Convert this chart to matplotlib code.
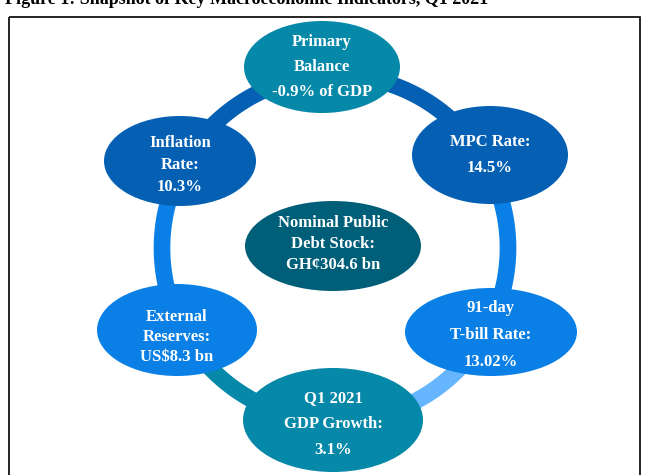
import numpy as np
import matplotlib.pyplot as plt
from matplotlib.patches import Ellipse, Rectangle

# indicator names and values, clockwise from the top, debt stock in the middle
names = ["Primary\nBalance", "MPC Rate:", "91-day\nT-bill Rate:", "Q1 2021\nGDP Growth:",
         "External\nReserves:", "Inflation\nRate:", "Nominal Public\nDebt Stock:"]
values = ["-0.9% of GDP", "14.5%", "13.02%", "3.1%", "US$8.3 bn", "10.3%", "GH\u00a2304.6 bn"]
title = "Figure 1: Snapshot of Key Macroeconomic Indicators, Q1 2021"

# layout in pixels: centre x, centre y, width, height, first text line y, line step
layout = [
    (322, 67, 156, 92, 42, 25),
    (490, 155, 156, 98, 142, 26),
    (491, 332, 172, 88, 308, 27),
    (333, 420, 180, 104, 398, 26),
    (177, 330, 160, 92, 317, 20),
    (180, 161, 152, 90, 143, 22),
    (333, 246, 176, 90, 223, 21),
]
node_colors = ["#0688a8", "#0560b4", "#0a80e6", "#0688a8", "#0a80e6", "#0560b4", "#005f78"]

# ring between the outer nodes
ring_cx, ring_cy, ring_r = 335, 248, 173
seg_colors = ["#0560b4", "#0a80e6", "#66b6ff", "#0688a8", "#0a80e6", "#0560b4"]

fig = plt.figure(figsize=(6.48, 4.75), dpi=100)
ax = fig.add_axes([0, 0, 1, 1])
ax.set_xlim(0, 648)
ax.set_ylim(475, 0)
ax.axis("off")

ax.text(5, 4, title, fontsize=13, fontweight="bold", family="Liberation Serif",
        va="baseline", ha="left", color="black")
ax.add_patch(Rectangle((9, 17), 631, 470, fill=False, edgecolor="black", linewidth=1.2))

# angles of each outer node seen from the ring centre
angles = [np.arctan2(ring_cy - cy, cx - ring_cx) for cx, cy, *_ in layout[:6]]
for i in range(6):
    a0 = angles[i]
    a1 = angles[(i + 1) % 6]
    if a1 > a0:
        a1 -= 2 * np.pi
    t = np.linspace(a0, a1, 80)
    ax.plot(ring_cx + ring_r * np.cos(t), ring_cy - ring_r * np.sin(t),
            color=seg_colors[i], linewidth=12, solid_capstyle="butt", zorder=1)

for (cx, cy, w, h, ty, step), name, val, col in zip(layout, names, values, node_colors):
    ax.add_patch(Ellipse((cx, cy), w, h, facecolor=col, edgecolor="none", zorder=2))
    lines = name.split("\n") + [val]
    for k, line in enumerate(lines):
        ax.text(cx, ty + k * step, line, color="white", fontsize=12, fontweight="bold",
                family="Liberation Serif", ha="center", va="center", zorder=3)

fig.savefig("out.png", dpi=100)
